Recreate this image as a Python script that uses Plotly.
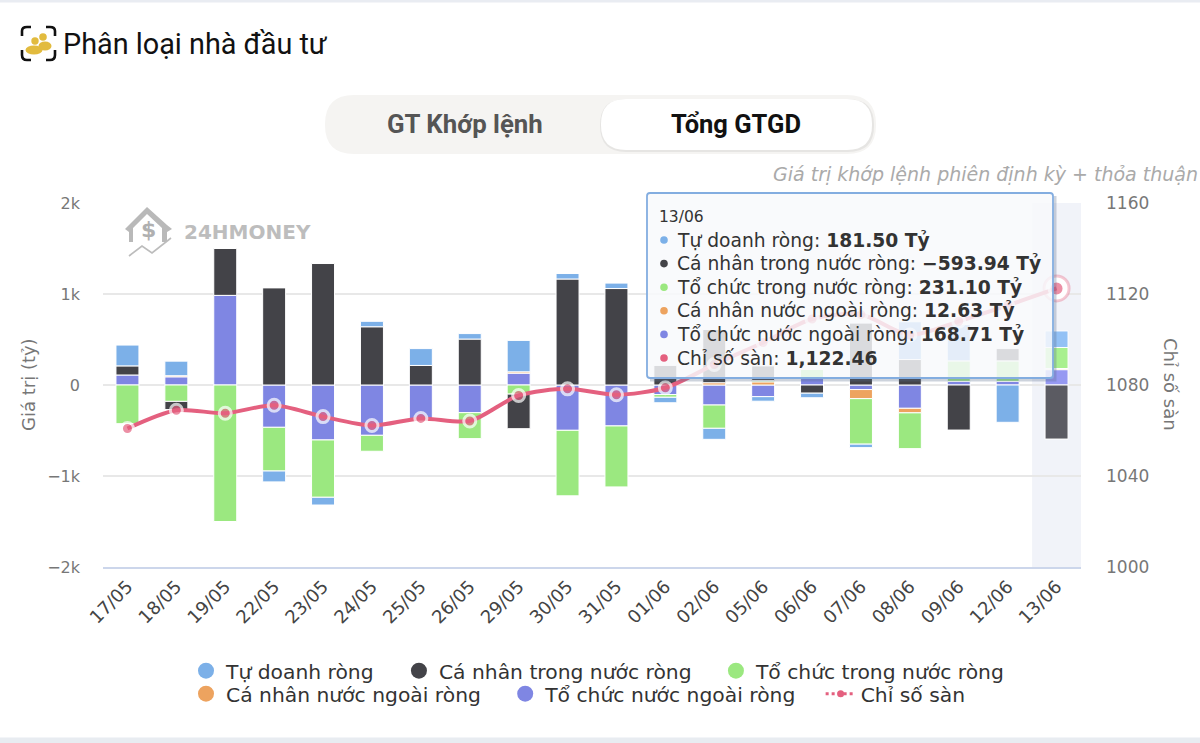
import plotly.graph_objects as go

categories = ["17/05","18/05","19/05","22/05","23/05","24/05","25/05","26/05","29/05","30/05",
              "31/05","01/06","02/06","05/06","06/06","07/06","08/06","09/06","12/06","13/06"]
tu_doanh = [229,160,None,-120,-85,60,185,60,345,60,60,-60,-121,-50,-50,-38,415,400,-410,181.50]
ca_nhan_tn = [100,-90,515,1067,1335,640,215,505,-380,1165,1060,215,585,160,-90,680,280,-495,135,-593.94]
to_chuc_tn = [-425,-180,-1500,-480,-630,-175,None,-285,-100,-720,-670,-30,-256,15,90,-500,-393,225,225,231.10]
ca_nhan_nn = [None,12,None,None,None,None,None,None,15,None,None,None,25,35,None,-100,-50,None,None,12.63]
to_chuc_nn = [110,90,985,-465,-604,-553,-385,-304,130,-498,-450,-105,-220,-128,80,-50,-256,40,40,168.71]
chi_so = [1060.9,1068.9,1067.6,1071.1,1066.1,1062.2,1065.3,1064.2,1075.4,1078.3,1075.7,1078.8,
          1089,1098.7,1109,1111,1102,1108,1115,1122.46]

left_ticks = [-2000,-1000,0,1000,2000]
left_labels = ["−2k","−1k","0","1k","2k"]
right_ticks = [1000,1040,1080,1120,1160]

names = ["Tự doanh ròng","Cá nhân trong nước ròng","Tổ chức trong nước ròng",
         "Cá nhân nước ngoài ròng","Tổ chức nước ngoài ròng","Chỉ số sàn"]
colors = ["#7cb0e8","#434348","#9be880","#eda35f","#7f86e3","#e4607f"]
hover_colors = ["#93c1f5","#5b5b62","#a8f08f","#f5b070","#9699f2"]
series = [tu_doanh, ca_nhan_tn, to_chuc_tn, ca_nhan_nn, to_chuc_nn]

W, H = 1200, 743
L, R, T, B = 103, 1081, 203, 567
FONT = "DejaVu Sans"
def fx(p): return (p-L)/(R-L)
def fy(p): return (B-p)/(B-T)

def rrect(x0,y0,x1,y1,r):
    X0,X1,Y0,Y1 = fx(x0),fx(x1),fy(y0),fy(y1)
    rx,ry = r/(R-L), r/(B-T)
    return (f"M{X0+rx},{Y0} L{X1-rx},{Y0} Q{X1},{Y0} {X1},{Y0-ry} L{X1},{Y1+ry} Q{X1},{Y1} {X1-rx},{Y1} "
            f"L{X0+rx},{Y1} Q{X0},{Y1} {X0},{Y1+ry} L{X0},{Y0-ry} Q{X0},{Y0} {X0+rx},{Y0} Z")
def poly(pts, close=False):
    s = "M"+" L".join(f"{fx(a)},{fy(b)}" for a,b in pts)
    return s+(" Z" if close else "")
def pshape(path, fill=None, line=None, w=0, layer="above"):
    d = dict(type="path", xref="paper", yref="paper", path=path, layer=layer, line=dict(width=w, color=line or "rgba(0,0,0,0)"))
    if fill: d["fillcolor"]=fill
    return d
def ell(cx,cy,rx,ry,fill,layer="above"):
    return dict(type="circle", xref="paper", yref="paper", x0=fx(cx-rx), x1=fx(cx+rx), y0=fy(cy+ry), y1=fy(cy-ry),
                fillcolor=fill, line=dict(width=0), layer=layer)
def text(x,y,t,size,color,family=FONT,anchor="left",**kw):
    return dict(x=fx(x),y=fy(y),xref="paper",yref="paper",text=t,showarrow=False,xanchor=anchor,yanchor="middle",
                font=dict(size=size,color=color,family=family),**kw)

fig = go.Figure()
for i in [4,3,2,1,0]:
    point_colors = [colors[i]]*(len(categories)-1)+[hover_colors[i]]
    fig.add_trace(go.Bar(x=categories,y=series[i],name=names[i],showlegend=False,yaxis="y",
                         marker=dict(color=point_colors,line=dict(color="white",width=1))))
fig.add_trace(go.Scatter(x=categories[-1:],y=chi_so[-1:],yaxis="y2",mode="markers",showlegend=False,
                         marker=dict(size=25,color="white",line=dict(color="rgba(228,96,127,0.35)",width=3))))
sizes = [12]*(len(categories)-1)+[15]
fig.add_trace(go.Scatter(x=categories,y=chi_so,yaxis="y2",mode="lines+markers",showlegend=False,name=names[5],
                         line=dict(color=colors[5],width=4,shape="spline",smoothing=0.8),
                         marker=dict(size=sizes,color=colors[5],line=dict(color="white",width=3))))
gaps = [3,3,0,3,3,0]
for i,n in enumerate(names):
    fig.add_trace(go.Scatter(x=categories[:1],y=[None],name=n+"\u00a0"*gaps[i],legendrank=i+1,yaxis="y",
        legend="legend" if i<3 else "legend2",
        mode="markers" if i<5 else "lines+markers",
        line=dict(color=colors[i],width=3,dash="dot"),
        marker=dict(size=16 if i<5 else 7,color=colors[i],symbol="circle")))

def sgn(v): return ("−" if v<0 else "")+f"{abs(v):.2f}"
rows = [f'{names[i]}: <b>{sgn(series[i][-1])} Tỷ</b>' for i in range(5)]
rows.append(f'{names[5]}: <b>{chi_so[-1]:,.2f}</b>')
row_y = [240+23.6*i for i in range(6)]

shapes = [
    dict(type="rect",xref="x",yref="paper",x0=18.5,x1=19.5,y0=0,y1=1,fillcolor="#f1f3f9",line=dict(width=0),layer="below"),
    dict(type="rect",xref="paper",yref="paper",x0=fx(0),x1=fx(W),y0=fy(0),y1=fy(2.5),fillcolor="#e9ecf2",line=dict(width=0),layer="below"),
    dict(type="rect",xref="paper",yref="paper",x0=fx(0),x1=fx(W),y0=fy(737.5),y1=fy(H),fillcolor="#e8ecf1",line=dict(width=0),layer="below"),
    pshape(rrect(325,95,876,154,29),fill="#f5f4f2",layer="below"),
    pshape(rrect(600,99,874,152,26),fill="#e6e5e3",layer="below"),
    pshape(rrect(601,99,872,150,25),fill="#ffffff",layer="below"),
    pshape(poly([(22,36),(22,31)])+" "+f"Q{fx(22)},{fy(27)} {fx(27)},{fy(27)} L{fx(31)},{fy(27)}",line="#111",w=2.6),
    pshape(f"M{fx(46)},{fy(27)} L{fx(50)},{fy(27)} Q{fx(55)},{fy(27)} {fx(55)},{fy(31)} L{fx(55)},{fy(36)}",line="#111",w=2.6),
    pshape(f"M{fx(22)},{fy(50)} L{fx(22)},{fy(55)} Q{fx(22)},{fy(60)} {fx(27)},{fy(60)} L{fx(31)},{fy(60)}",line="#111",w=2.6),
    pshape(f"M{fx(46)},{fy(60)} L{fx(50)},{fy(60)} Q{fx(55)},{fy(60)} {fx(55)},{fy(55)} L{fx(55)},{fy(50)}",line="#111",w=2.6),
    ell(35,41,3.7,3.7,"#e2bb3e"), ell(43,37,3.8,3.8,"#e2bb3e"),
    ell(34,50,8.5,4.5,"#e2bb3e"), ell(45,46,6.5,4.5,"#e2bb3e"),
    pshape(poly([(125,229),(129,225),(147,207),(167,225),(172,229),(167,232),(167,242),(162,242),(162,228),(147,214),(133,228),(133,242),(129,242),(129,232)],True),fill="#b9b9b9",layer="below"),
    pshape(poly([(129,256),(142,246),(152,253),(171,238)]),line="#bcbcbc",w=1.6,layer="below"),
    pshape(poly([(1055,196),(1055,380),(650,380)]),line="rgba(90,110,140,0.3)",w=3),
    pshape(rrect(647,193,1053,378,3),fill="rgba(248,249,251,0.84)",line="#83ade0",w=1.8),
]
for i,y in enumerate(row_y):
    shapes.append(ell(664,y,3.8,3.8,colors[i]))

annotations = [
    text(61,44,"Phân loại nhà đầu tư",28.8,"#111","Roboto"),
    text(465,124,"<b>GT Khớp lệnh</b>",25.8,"#555","Roboto",anchor="center"),
    text(736,124,"<b>Tổng GTGD</b>",25.5,"#111","Roboto",anchor="center"),
    text(1200,174,"<i>Giá trị khớp lệnh phiên định kỳ + thỏa thuận</i>",19,"#aaaaaa",anchor="right"),
    text(182,232,"<b>24HMONEY</b>",20,"#bdbdbd"),
    text(148,229,"<b>$</b>",22,"#b0b0b0",anchor="center"),
    text(657,217,"13/06",15.5,"#333"),
    text(28,385,"Giá trị (tỷ)",18,"#777",anchor="center",textangle=-90),
    text(1171,384,"Chỉ số sàn",18,"#777",anchor="center",textangle=90),
]
for y,r in zip(row_y,rows):
    annotations.append(text(675,y,r,18.7,"#333"))

fig.update_layout(
    width=W,height=H,autosize=False,paper_bgcolor="white",plot_bgcolor="white",
    margin=dict(l=L,r=W-R,t=T,b=H-B,pad=0,autoexpand=False),barmode="relative",bargap=0.53,
    font=dict(family=FONT,color="#555"),
    xaxis=dict(type="category",categoryorder="array",categoryarray=categories,range=[-0.5,19.5],tickangle=-45,automargin=False,
               tickfont=dict(size=18,color="#444"),showline=True,linecolor="#ccd6eb",linewidth=2,showgrid=False,ticks="",ticklen=0),
    yaxis=dict(range=[-2000,2000],tickvals=left_ticks,ticktext=left_labels,showgrid=True,gridcolor="#e8e8e8",gridwidth=2,automargin=False,
               zeroline=True,zerolinecolor="#e8e8e8",zerolinewidth=2,tickfont=dict(size=16,color="#777"),ticklabelstandoff=22,ticks=""),
    yaxis2=dict(range=[1000,1160],overlaying="y",side="right",tickvals=right_ticks,showgrid=False,zeroline=False,automargin=False,
                tickfont=dict(size=17,color="#777"),ticks="",ticklabelstandoff=24),
    legend=dict(orientation="h",x=fx(186),y=fy(671),xanchor="left",yanchor="middle",font=dict(size=20.3,color="#333"),
                bgcolor="rgba(0,0,0,0)",itemwidth=30),
    legend2=dict(orientation="h",x=fx(186),y=fy(694),xanchor="left",yanchor="middle",font=dict(size=20.3,color="#333"),
                bgcolor="rgba(0,0,0,0)",itemwidth=30),
    shapes=shapes,annotations=annotations,
)
fig.write_html("out.html",post_script="document.body.style.margin='0';",config=dict(displayModeBar=False))
